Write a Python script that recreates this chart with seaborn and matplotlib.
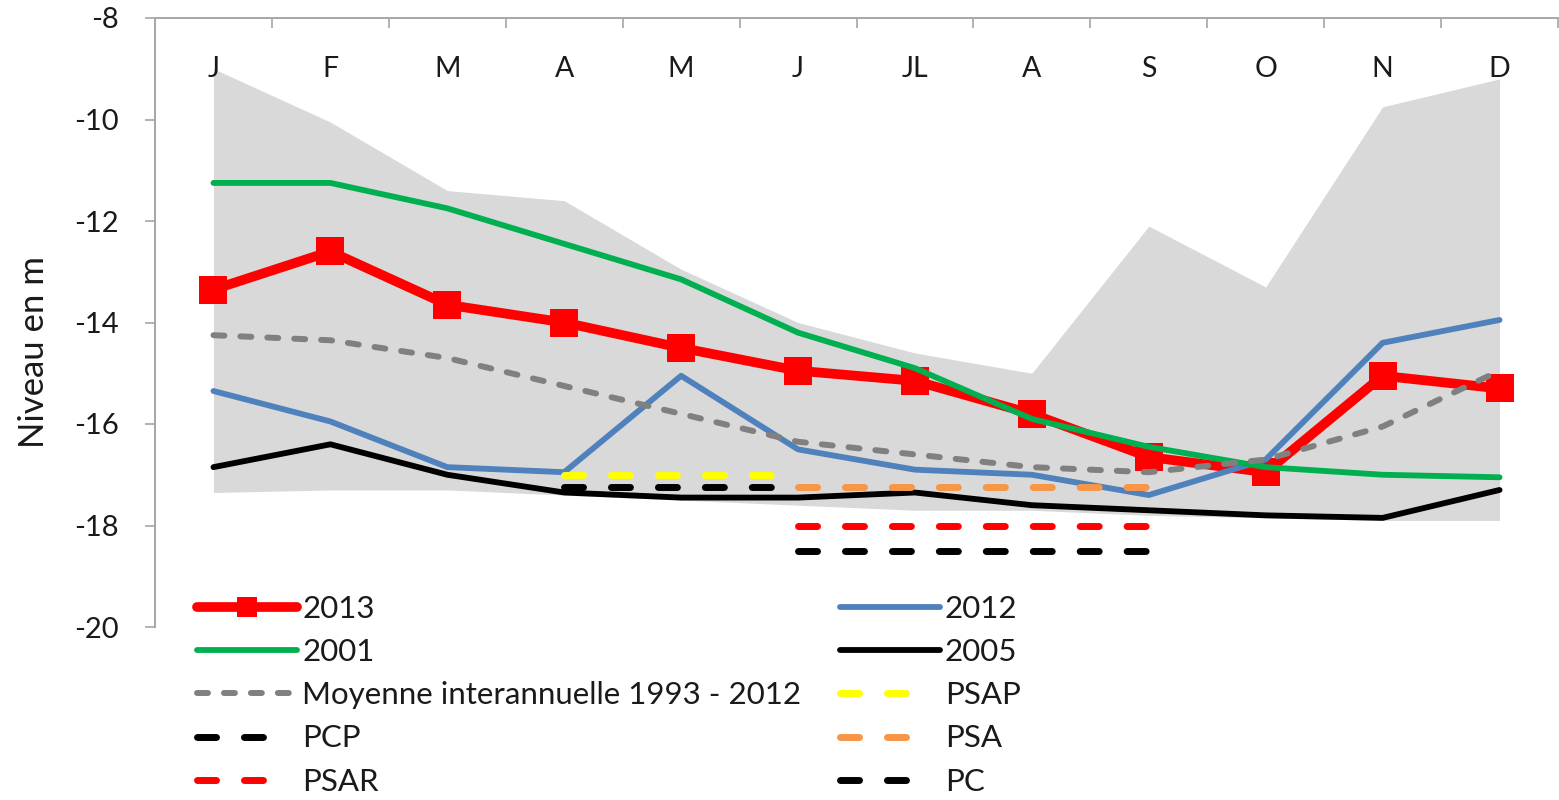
"""
Niveau de la nappe : comparaison 2013 / années de référence et seuils
"""
import numpy as np
import matplotlib
matplotlib.use("Agg")
import matplotlib.pyplot as plt
import seaborn as sns

# Données
mois = ["J", "F", "M", "A", "M", "J", "JL", "A", "S", "O", "N", "D"]
niv_2013 = [-13.35, -12.6, -13.65, -14.0, -14.5, -14.95, -15.15, -15.8, -16.65, -16.95, -15.05, -15.3]
niv_2012 = [-15.35, -15.95, -16.85, -16.95, -15.05, -16.5, -16.9, -17.0, -17.4, -16.7, -14.4, -13.95]
niv_2001 = [-11.25, -11.25, -11.75, -12.45, -13.15, -14.2, -14.9, -15.9, -16.45, -16.85, -17.0, -17.05]
niv_2005 = [-16.85, -16.4, -17.0, -17.35, -17.45, -17.45, -17.35, -17.6, -17.7, -17.8, -17.85, -17.3]
moyenne = [-14.25, -14.35, -14.7, -15.25, -15.8, -16.35, -16.6, -16.85, -16.95, -16.7, -16.05, -14.95]
enveloppe_max = [-9.0, -10.05, -11.4, -11.6, -12.95, -14.0, -14.6, -15.0, -12.1, -13.3, -9.75, -9.2]
enveloppe_min = [-17.35, -17.3, -17.3, -17.4, -17.5, -17.6, -17.7, -17.7, -17.8, -17.85, -17.9, -17.9]

# Seuils (indices des mois concernés)
psap_x = [3, 4, 5]
psap_y = [-17.0, -17.0, -17.0]
pcp_x = [3, 4, 5]
pcp_y = [-17.25, -17.25, -17.25]
psa_x = [5, 6, 7, 8]
psa_y = [-17.25, -17.25, -17.25, -17.25]
psar_x = [5, 6, 7, 8]
psar_y = [-18.0, -18.0, -18.0, -18.0]
pc_x = [5, 6, 7, 8]
pc_y = [-18.5, -18.5, -18.5, -18.5]

sns.set_style("white")
plt.rcParams['font.family'] = ['Lato', 'DejaVu Sans']
plt.rcParams['lines.scale_dashes'] = False

x = np.arange(len(mois))
grid_col = "#A6A6A6"
txt_col = "#1A1A1A"

fig = plt.figure(figsize=(15.59, 8.0), dpi=100)
ax = fig.add_axes([155 / 1559, 1 - 627 / 800, 1403 / 1559, 609 / 800])
ax.set_axisbelow(False)

# enveloppe min / max
ax.fill_between(x, enveloppe_min, enveloppe_max, color="#D9D9D9", lw=0, zorder=0.3)

seuil_dash = (0, (13.7, 20.1))
moy_dash = (0, (7.9, 11.5))

sns.lineplot(x=x, y=niv_2013, ax=ax, color="#FF0000", linewidth=7, marker="s", markersize=20,
             markeredgewidth=0, solid_capstyle="round", label="2013", zorder=3)
sns.lineplot(x=x, y=niv_2012, ax=ax, color="#4F81BD", linewidth=4.2, solid_capstyle="round",
             label="2012", zorder=4)
sns.lineplot(x=x, y=niv_2001, ax=ax, color="#00B050", linewidth=4.2, solid_capstyle="round",
             label="2001", zorder=5)
sns.lineplot(x=x, y=niv_2005, ax=ax, color="#000000", linewidth=4.2, solid_capstyle="round",
             label="2005", zorder=6)
sns.lineplot(x=x, y=moyenne, ax=ax, color="#808080", linewidth=4.3, linestyle=moy_dash,
             dash_capstyle="round", label="Moyenne interannuelle 1993 - 2012", zorder=7)
sns.lineplot(x=psap_x, y=psap_y, ax=ax, color="#FFFF00", linewidth=5, linestyle=seuil_dash,
             dash_capstyle="round", label="PSAP", zorder=8)
sns.lineplot(x=pcp_x, y=pcp_y, ax=ax, color="#000000", linewidth=5, linestyle=seuil_dash,
             dash_capstyle="round", label="PCP", zorder=8)
sns.lineplot(x=psa_x, y=psa_y, ax=ax, color="#F79646", linewidth=5, linestyle=seuil_dash,
             dash_capstyle="round", label="PSA", zorder=8)
sns.lineplot(x=psar_x, y=psar_y, ax=ax, color="#FF0000", linewidth=5, linestyle=seuil_dash,
             dash_capstyle="round", label="PSAR", zorder=8)
sns.lineplot(x=pc_x, y=pc_y, ax=ax, color="#000000", linewidth=5, linestyle=seuil_dash,
             dash_capstyle="round", label="PC", zorder=8)

# axes
ax.set_xlim(-0.5, 11.5)
ax.set_ylim(-20, -8)
ax.set_yticks(np.arange(-20, -7, 2))
ax.set_yticklabels([str(v) for v in range(-20, -7, 2)])
ax.xaxis.tick_top()
ax.set_xticks(x)
ax.set_xticklabels(mois)
ax.set_xticks(np.arange(-0.5, 12, 1), minor=True)
ax.tick_params(axis="x", which="major", length=0, pad=-46, labelsize=20.5,
               labelcolor=txt_col)
ax.tick_params(axis="x", which="minor", direction="in", length=7.2, width=1.2,
               color=grid_col, top=True, bottom=False)
ax.tick_params(axis="y", which="major", direction="out", length=7.2, width=1.2,
               color=grid_col, pad=19, labelsize=21, labelcolor=txt_col, left=True)

for s in ["right", "bottom"]:
    ax.spines[s].set_visible(False)
for s in ["left", "top"]:
    ax.spines[s].set_color(grid_col)
    ax.spines[s].set_linewidth(1.4)

ax.set_xlabel("")
ax.set_ylabel("Niveau en m", fontsize=25, color=txt_col)
ax.yaxis.set_label_coords(-0.075, 0.452)

# légende en deux colonnes
handles, labels = ax.get_legend_handles_labels()
hmap = dict(zip(labels, handles))
col1 = ["2013", "2001", "Moyenne interannuelle 1993 - 2012", "PCP", "PSAR"]
col2 = ["2012", "2005", "PSAP", "PSA", "PC"]
leg_kw = dict(frameon=False, fontsize=22.5, handlelength=3.2, handletextpad=0.16,
              labelspacing=0.485, borderpad=0, borderaxespad=0, loc="upper left")
leg1 = fig.legend([hmap[k] for k in col1], col1, bbox_to_anchor=(197 / 1559, 1 - 595 / 800), **leg_kw)
leg2 = fig.legend([hmap[k] for k in col2], col2, bbox_to_anchor=(840 / 1559, 1 - 595 / 800), **leg_kw)
if ax.get_legend() is not None:
    ax.get_legend().remove()
for leg in (leg1, leg2):
    for t in leg.get_texts():
        t.set_color(txt_col)
    for t, l in zip(leg.get_texts(), leg.get_lines()):
        if l.get_marker() == "s":
            l.set_markersize(15)
        if t.get_text() in ("PSAP", "PCP", "PSA", "PSAR", "PC"):
            l.set_linestyle((0, (13.7, 20.1, 13.7, 60)))

fig.savefig("out.png", dpi=100)
plt.close(fig)
